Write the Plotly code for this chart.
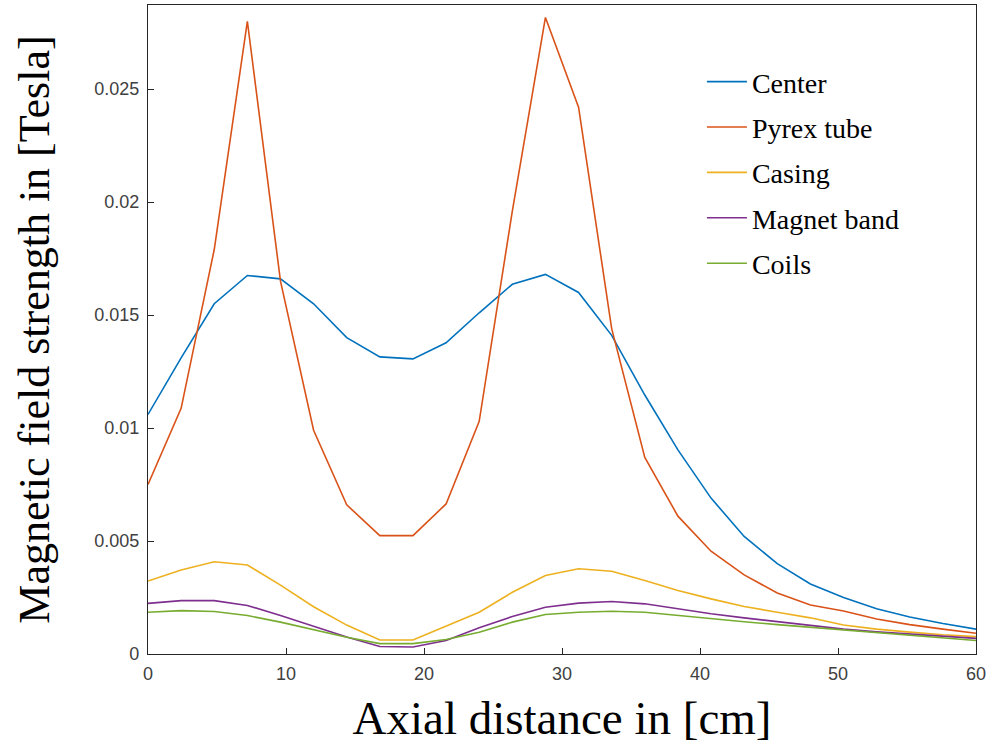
import plotly.graph_objects as go

# Axial positions (cm)
axial_cm = [0, 2.4, 4.8, 7.2, 9.6, 12, 14.4, 16.8, 19.2, 21.6, 24, 26.4, 28.8,
            31.2, 33.6, 36, 38.4, 40.8, 43.2, 45.6, 48, 50.4, 52.8, 55.2, 57.6, 60]

# Field strength (Tesla) at each probe position
center = [0.0106, 0.0131, 0.0155, 0.01675, 0.0166, 0.0155, 0.0140, 0.01315, 0.01306,
          0.01377, 0.0151, 0.01636, 0.0168, 0.0160, 0.0141, 0.01146, 0.00903, 0.0069,
          0.0052, 0.0040, 0.0031, 0.0025, 0.0020, 0.00164, 0.00135, 0.0011]
pyrex_tube = [0.0075, 0.01087, 0.0179, 0.0280, 0.0165, 0.0099, 0.0066, 0.00524, 0.00524,
              0.00664, 0.0103, 0.0196, 0.02817, 0.0242, 0.0144, 0.0087, 0.0061, 0.00455,
              0.0035, 0.0027, 0.00217, 0.0019, 0.00155, 0.0013, 0.0011, 0.00092]
casing = [0.00323, 0.00372, 0.00408, 0.00394, 0.00305, 0.00209, 0.00128, 0.00062, 0.00062,
          0.00122, 0.00185, 0.00273, 0.00347, 0.00377, 0.00366, 0.00325, 0.00281, 0.00244,
          0.0021, 0.00185, 0.0016, 0.00128, 0.0011, 0.00097, 0.00085, 0.00077]
magnet_band = [0.00224, 0.00236, 0.00236, 0.00215, 0.0017, 0.00122, 0.00075, 0.00033, 0.00031,
               0.0006, 0.00116, 0.00166, 0.00207, 0.00225, 0.00232, 0.00222, 0.002, 0.00178,
               0.0016, 0.00143, 0.00127, 0.0011, 0.00098, 0.00088, 0.00078, 0.00069]
coils = [0.00185, 0.00192, 0.00188, 0.0017, 0.00141, 0.00108, 0.00074, 0.00046, 0.00046,
         0.00064, 0.00096, 0.00141, 0.00175, 0.00185, 0.00189, 0.00185, 0.0017, 0.00156,
         0.00143, 0.0013, 0.00118, 0.00106, 0.00095, 0.00084, 0.00072, 0.0006]

series_names = ["Center", "Pyrex tube", "Casing", "Magnet band", "Coils"]
series_values = [center, pyrex_tube, casing, magnet_band, coils]
series_colors = ["#0072BD", "#D95319", "#EDB120", "#7E2F8E", "#77AC30"]

x_ticks = [0, 10, 20, 30, 40, 50, 60]
y_ticks = [0, 0.005, 0.01, 0.015, 0.02, 0.025]
y_tick_text = ["0", "0.005", "0.01", "0.015", "0.02", "0.025"]

serif = "Liberation Serif, Times New Roman, serif"
sans = "Liberation Sans, Arial, sans-serif"

fig = go.Figure()
for name, vals, col in zip(series_names, series_values, series_colors):
    fig.add_trace(go.Scatter(
        x=axial_cm, y=vals, name=name, mode="lines",
        line=dict(color=col, width=1.6), legendgroup=name,
    ))

axis_common = dict(
    showgrid=False, zeroline=False, showline=True, mirror=True,
    linecolor="#262626", linewidth=1.3,
    ticks="inside", ticklen=6, tickcolor="#262626", tickwidth=1.2,
    tickfont=dict(family=sans, size=18, color="#404040"),
)

fig.update_xaxes(
    range=[0, 60], tickvals=x_ticks, ticklabelstandoff=3,
    title=dict(text="Axial distance in [cm]", standoff=18,
               font=dict(family=serif, size=47, color="#000000")),
    **axis_common,
)
fig.update_yaxes(
    range=[0, 0.02872], tickvals=y_ticks, ticktext=y_tick_text, ticklabelstandoff=4,
    title=dict(text="Magnetic field strength in [Tesla]", standoff=30,
               font=dict(family=serif, size=44, color="#000000")),
    **axis_common,
)

fig.update_layout(
    width=989, height=749,
    margin=dict(l=148, r=13, t=5, b=95, autoexpand=False),
    paper_bgcolor="white", plot_bgcolor="white",
    legend=dict(
        x=0.669, y=0.92, xanchor="left", yanchor="top",
        bgcolor="rgba(0,0,0,0)", borderwidth=0,
        font=dict(family=serif, size=28, color="#000000"),
        tracegroupgap=6, itemwidth=40,
    ),
)

fig.write_html("out.html")
